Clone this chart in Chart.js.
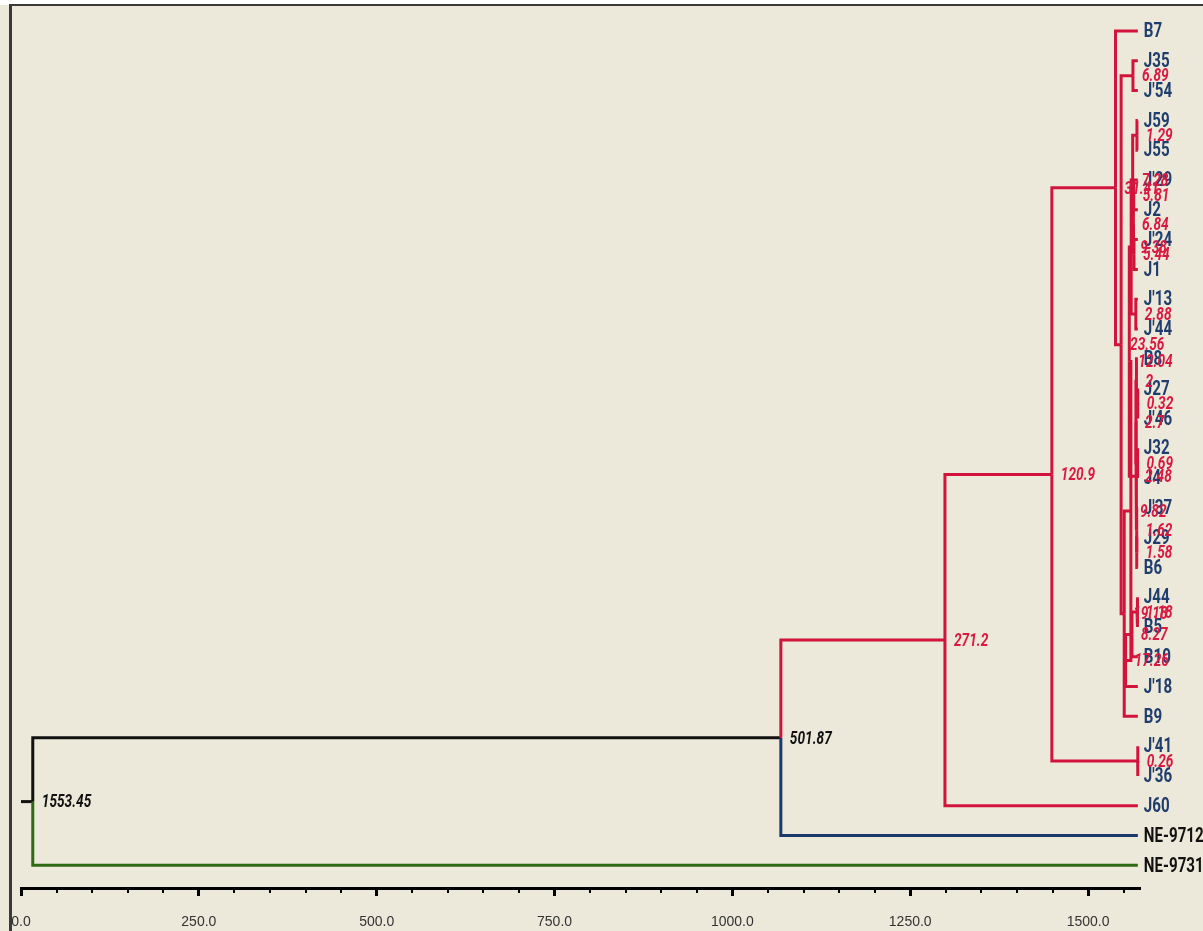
<!DOCTYPE html>
<html><head><meta charset="utf-8">
<script src="https://cdn.jsdelivr.net/npm/chart.js@4"></script>
<style>html,body{margin:0;padding:0;background:#fff;overflow:hidden}canvas{display:block}</style>
</head><body>
<canvas id="c" width="1203" height="931"></canvas>
<script>
// ---- data ----
const leafNames = ["B7","J35","J'54","J59","J55","J'29","J2","J'24","J1","J'13","J'44","B8","J27","J'46","J32","J4","J'37","J29","B6","J44","B5","B10","J'18","B9","J'41","J'36","J60","NE-9712","NE-9731"];
const RED = '#D2143C', NAVY = '#1F3D6D', BLUE = '#1B3A6B', GREEN = '#2E6B14', BLACK = '#111111';
const leafLabelColors = leafNames.map(n => n.startsWith('NE') ? BLACK : NAVY);
const leafBranchColors = leafNames.map(n => n === 'NE-9712' ? BLUE : (n === 'NE-9731' ? GREEN : RED));

const nodeIds     = ["n1","n2","n3","n4","n5","n6","n7","n8","n9","n10","n11","n12","n13","n14","n15","n16","n17","n18","n19","n20","n21","n22","n23","n24","n25","n26","n27","n28"];
const nodeLeft    = ["J35","J59","J'29","J'24","n3","n2","J'13","n6","J27","B8","J32","n10","J29","J'37","n12","n8","J44","n17","n18","n16","n20","n1","B7","J'41","n23","n25","n26","n27"];
const nodeRight   = ["J'54","J55","J2","J1","n4","n5","J'44","n7","J'46","n9","J4","n11","B6","n13","n14","n15","B5","B10","J'18","n19","B9","n21","n22","J'36","n24","J60","NE-9712","NE-9731"];
const nodeHeights = [6.89,1.29,5.81,5.44,6.84,7.28,2.88,9.38,0.32,2,0.69,2.7,1.58,1.62,2.48,12.04,1.18,8.27,17.26,9.82,19.18,23.56,31.41,0.26,120.9,271.2,501.87,1553.45];
const nodeLabels  = ["6.89","1.29","5.81","5.44","6.84","7.28","2.88","9.38","0.32","2","0.69","2.7","1.58","1.62","2.48","12.04","1.18","8.27","17.26","9.82","19.18","23.56","31.41","0.26","120.9","271.2","501.87","1553.45"];
const nodeLabelColors = nodeIds.map(id => (id === 'n27' || id === 'n28') ? BLACK : '#D81A42');
const nodeBranchColors = nodeIds.map(id => (id === 'n27' || id === 'n28') ? BLACK : RED);

const LEAF_X = 1570;
const xMajorTicks = [0,250,500,750,1000,1250,1500];
const xMinorStep = 50;
const X_MAX = 1573;

// ---- layout of tree through values ----
const pos = {};
leafNames.forEach((n,i) => { pos[n] = {x: LEAF_X, y: i, color: leafBranchColors[i]}; });
nodeIds.forEach((id,i) => {
  const a = pos[nodeLeft[i]], b = pos[nodeRight[i]];
  pos[id] = {x: LEAF_X - nodeHeights[i], y: (a.y + b.y)/2, color: nodeBranchColors[i]};
});

const datasets = [];
function seg(data, color){
  datasets.push({data, borderColor: color, borderWidth: 3, pointRadius: 0, fill: false, tension: 0,
    borderJoinStyle: 'miter', borderCapStyle: 'butt'});
}
nodeIds.forEach((id,i) => {
  const p = pos[id];
  [nodeLeft[i], nodeRight[i]].forEach(cid => {
    const c = pos[cid];
    seg([{x:p.x,y:p.y},{x:p.x,y:c.y},{x:c.x,y:c.y}], c.color);
  });
});
const root = pos['n28'];
seg([{x:0,y:root.y},{x:root.x,y:root.y}], BLACK);

const FONT_STACK = 'Roboto,"DejaVu Sans",sans-serif';
function condensedText(ctx, text, x, y, sx){
  ctx.save();
  ctx.translate(x, y);
  ctx.scale(sx, 1);
  ctx.fillText(text, 0, 0);
  ctx.restore();
}

const decor = {
  id: 'decor',
  beforeDraw(chart){
    const ctx = chart.ctx;
    ctx.save();
    ctx.fillStyle = '#ffffff';
    ctx.fillRect(0,0,chart.width,chart.height);
    ctx.fillStyle = '#ECE8DA';
    ctx.fillRect(0,5,chart.width,chart.height-5);
    ctx.restore();
  },
  afterDatasetsDraw(chart){
    const ctx = chart.ctx, xs = chart.scales.x, ys = chart.scales.y;
    ctx.save();
    ctx.textBaseline = 'middle';
    ctx.textAlign = 'left';
    ctx.font = 'bold 21px ' + FONT_STACK;
    leafNames.forEach((n,i) => {
      ctx.fillStyle = leafLabelColors[i];
      condensedText(ctx, n, xs.getPixelForValue(LEAF_X) + 6, ys.getPixelForValue(i) + 1, 0.72);
    });
    ctx.font = 'italic bold 19px ' + FONT_STACK;
    nodeIds.forEach((id,i) => {
      const p = pos[id];
      ctx.fillStyle = nodeLabelColors[i];
      condensedText(ctx, nodeLabels[i], xs.getPixelForValue(p.x) + 9, ys.getPixelForValue(p.y) + 1, 0.72);
    });
    ctx.restore();
  },
  afterDraw(chart){
    const ctx = chart.ctx, xs = chart.scales.x, area = chart.chartArea;
    ctx.save();
    ctx.strokeStyle = '#000';
    ctx.lineWidth = 2;
    for (let v = 0; v <= X_MAX; v += xMinorStep){
      if (v % 250 === 0) continue;
      const px = Math.round(xs.getPixelForValue(v));
      ctx.beginPath(); ctx.moveTo(px, area.bottom); ctx.lineTo(px, area.bottom + 5); ctx.stroke();
    }
    ctx.strokeStyle = '#3a3a3a';
    ctx.lineWidth = 3;
    ctx.beginPath(); ctx.moveTo(10.5, 4); ctx.lineTo(10.5, chart.height); ctx.stroke();
    ctx.lineWidth = 2;
    ctx.beginPath(); ctx.moveTo(9, 5); ctx.lineTo(chart.width, 5); ctx.stroke();
    ctx.restore();
  }
};

new Chart(document.getElementById('c'), {
  type: 'line',
  data: { datasets },
  options: {
    responsive: false, animation: false, devicePixelRatio: 1,
    layout: { padding: { left: 21, right: 63, top: 6, bottom: 1 } },
    plugins: { legend: { display: false }, tooltip: { enabled: false } },
    scales: {
      x: {
        type: 'linear', min: 0, max: X_MAX, position: 'bottom',
        afterBuildTicks: s => { s.ticks = xMajorTicks.map(v => ({ value: v })); },
        afterFit: s => { s.height = 42; s.paddingLeft = 0; s.paddingRight = 0; },
        grid: { display: true, drawOnChartArea: false, drawTicks: true, tickLength: 8, tickWidth: 3, tickColor: '#000' },
        border: { display: true, color: '#000', width: 3 },
        ticks: { padding: 18, autoSkip: false, maxRotation: 0, color: '#333',
          font: { family: '"Liberation Sans", Arial, sans-serif', size: 14 },
          callback: v => Number(v).toFixed(1) }
      },
      y: { type: 'linear', display: false, min: -0.84, max: 28.76, reverse: true }
    }
  },
  plugins: [decor]
});
</script>
</body></html>
